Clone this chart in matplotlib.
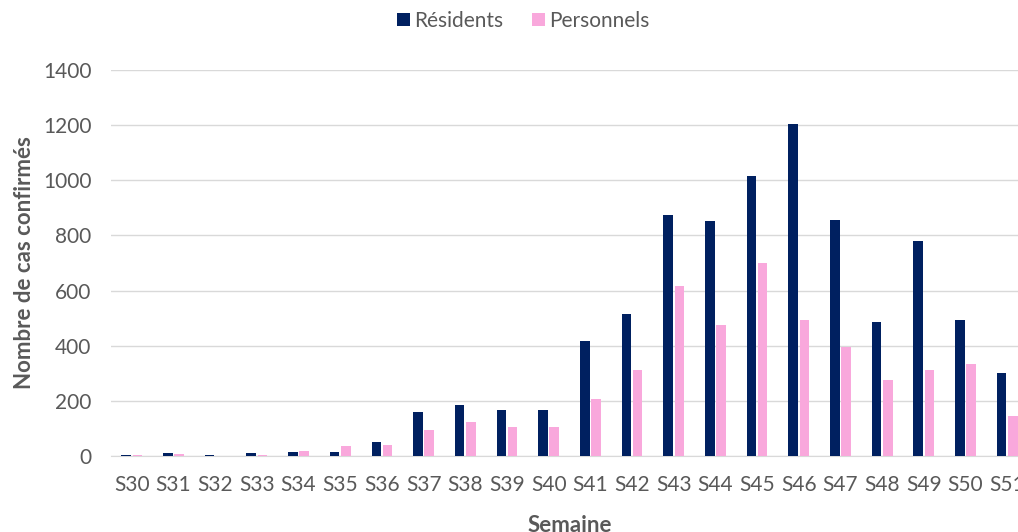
import matplotlib.pyplot as plt
import numpy as np

semaines = ["S30", "S31", "S32", "S33", "S34", "S35", "S36", "S37", "S38", "S39", "S40",
            "S41", "S42", "S43", "S44", "S45", "S46", "S47", "S48", "S49", "S50", "S51"]
residents = [5, 10, 4, 10, 16, 16, 50, 160, 185, 168, 168,
             417, 515, 875, 853, 1015, 1205, 857, 485, 778, 492, 300]
personnels = [4, 9, 0, 4, 19, 36, 41, 93, 122, 105, 105,
              208, 313, 615, 475, 700, 493, 395, 277, 312, 333, 145]

plt.rcParams["font.family"] = ["Lato", "DejaVu Sans"]

fig = plt.figure(figsize=(10.18, 5.32), dpi=100)
ax = fig.add_axes([111 / 1018, 76 / 532, 917 / 1018, 386 / 532])

x = np.arange(len(semaines))
w = 0.23
ax.bar(x - 0.135, residents, w, color="#002060", label="Résidents", zorder=3)
ax.bar(x + 0.135, personnels, w, color="#F9A8DC", label="Personnels", zorder=3)

ax.set_xlim(-0.5, len(semaines) - 0.5)
ax.set_ylim(0, 1400)
ax.set_yticks(range(0, 1401, 200))
ax.set_xticks(x)
ax.set_xticklabels(semaines)
ax.grid(axis="y", color="#d9d9d9", linewidth=1, zorder=0)
for s in ["top", "right", "left"]:
    ax.spines[s].set_visible(False)
ax.spines["bottom"].set_color("#d9d9d9")
ax.tick_params(axis="both", length=0, labelsize=15, colors="#595959")
ax.tick_params(axis="x", pad=14)
ax.tick_params(axis="y", pad=14)

ax.set_ylabel("Nombre de cas confirmés", fontsize=16, fontweight="bold", color="#595959", labelpad=6)
ax.set_xlabel("Semaine", fontsize=16, fontweight="bold", color="#595959", labelpad=14)

fig.legend(loc="upper center", bbox_to_anchor=(0.514, 1.015), ncol=2, frameon=False,
           fontsize=15, handlelength=0.6, handleheight=0.6, columnspacing=1.4,
           handletextpad=0.2, labelcolor="#595959")

plt.savefig("out.png", dpi=100)
